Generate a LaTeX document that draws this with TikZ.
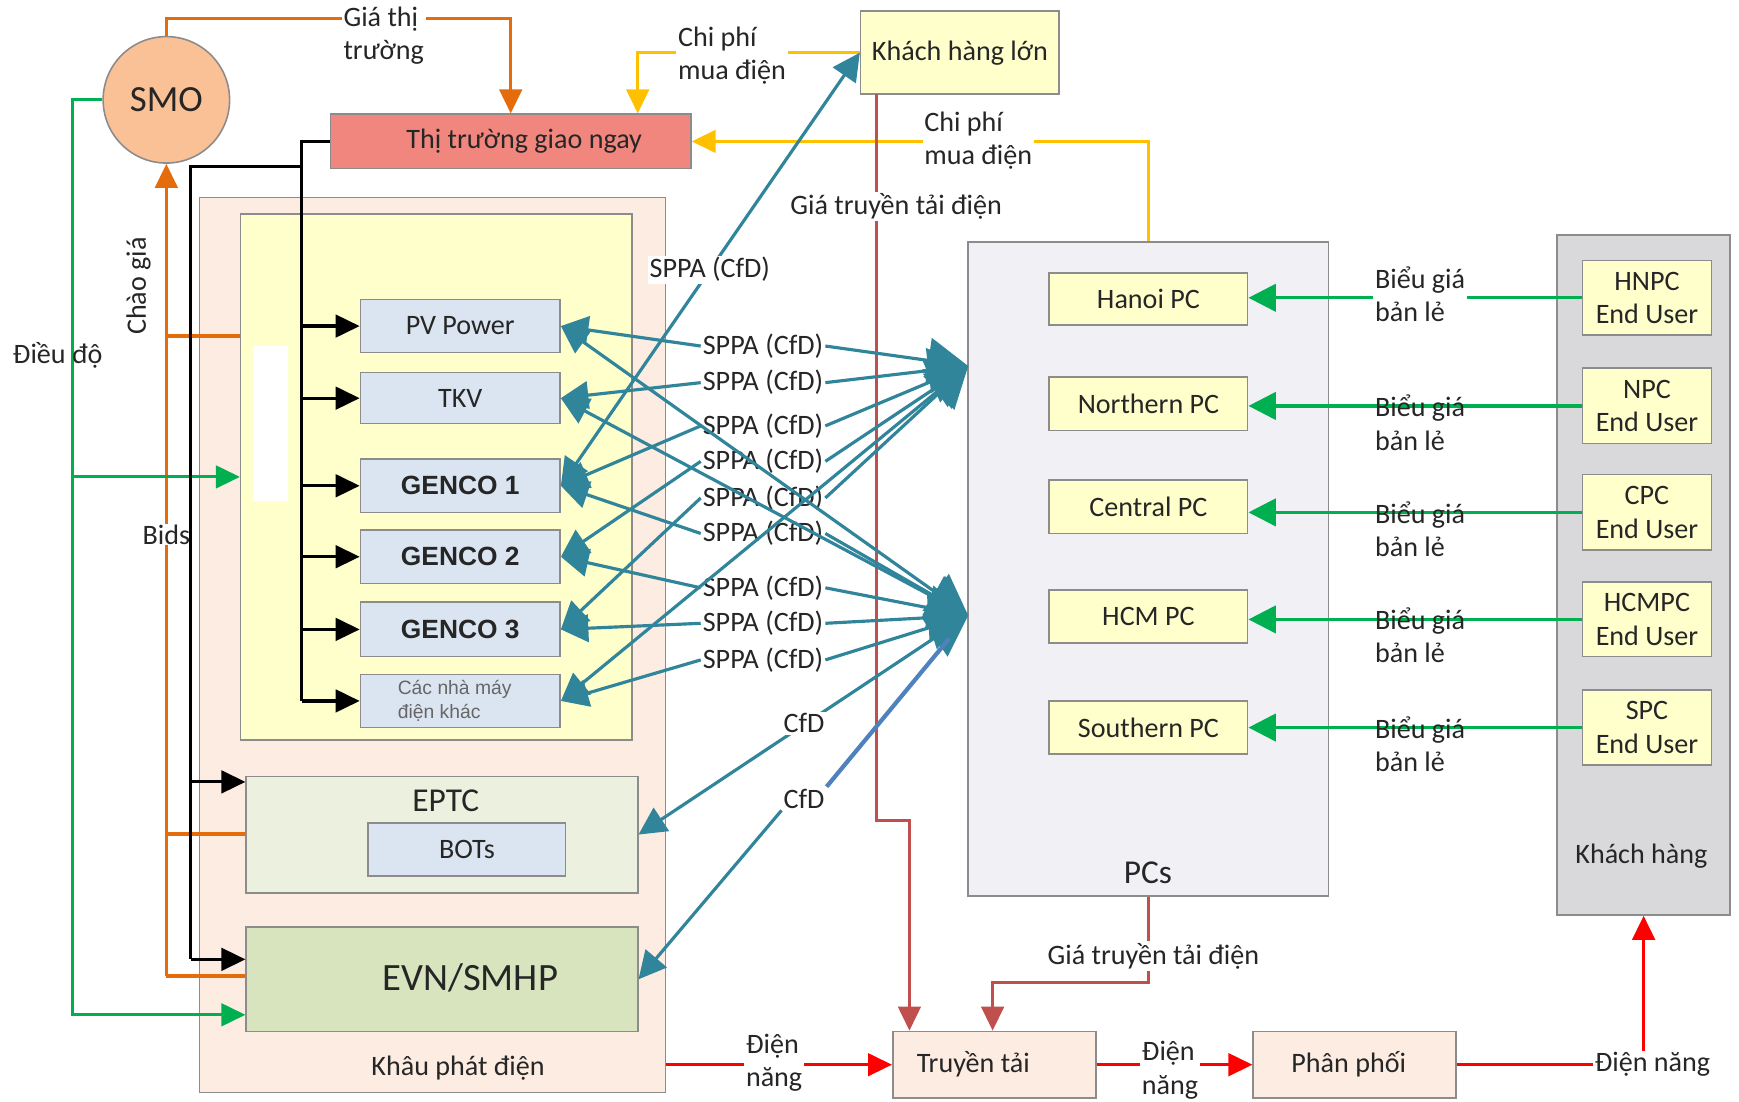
\documentclass[tikz,border=0pt]{standalone}
\usepackage{fontspec}
\setmainfont{Carlito}
\newfontfamily\arialfont{Liberation Sans}
\usetikzlibrary{arrows.meta,fit,positioning}

\definecolor{smoOrange}{RGB}{250,192,150}
\definecolor{bidOrange}{RGB}{228,108,10}
\definecolor{spotRed}{RGB}{240,134,125}
\definecolor{genPeach}{RGB}{252,236,226}
\definecolor{paleYellow}{RGB}{255,255,204}
\definecolor{genBlue}{RGB}{219,229,241}
\definecolor{eptcGreen}{RGB}{235,241,222}
\definecolor{evnGreen}{RGB}{215,228,189}
\definecolor{pcGray}{RGB}{240,240,245}
\definecolor{custGray}{RGB}{217,217,220}
\definecolor{sppaTeal}{RGB}{49,133,155}
\definecolor{dispGreen}{RGB}{0,176,80}
\definecolor{costYellow}{RGB}{255,192,0}
\definecolor{tariffRed}{RGB}{192,80,77}
\definecolor{powerRed}{RGB}{255,0,0}
\definecolor{cfdBlue}{RGB}{79,129,189}
\definecolor{boxLine}{RGB}{140,140,140}

\tikzset{
  zone/.style={draw=boxLine, line width=0.9pt, inner sep=0pt},
  genbox/.style={zone, fill=genBlue},
  pcbox/.style={zone, fill=paleYellow},
  flowbox/.style={zone, fill=genPeach},
  genco/.style={font=\arialfont\bfseries\fontsize{15}{18}\selectfont},
  eutext/.style={align=center},
  gapnode/.style={fill=white, inner sep=1pt, align=left},
  sppalbl/.style={inner sep=1pt},
  smalltip/.style={-{Triangle[length=0.48cm,width=0.45cm]}},
  gentip/.style={-{Triangle[length=0.55cm,width=0.55cm]}},
  hubtip/.style={-{Triangle[length=0.8cm,width=0.9cm]}},
  bothtip/.style={{Triangle[length=0.55cm,width=0.55cm]}-{Triangle[length=0.8cm,width=0.9cm]}},
  sppaline/.style={draw=sppaTeal, line width=1.8pt},
  bidline/.style={draw=bidOrange, line width=1.8pt},
  displine/.style={draw=dispGreen, line width=1.8pt},
  blkline/.style={draw=black, line width=1.8pt},
  costline/.style={draw=costYellow, line width=1.8pt},
  tarline/.style={draw=tariffRed, line width=1.8pt},
  powline/.style={draw=powerRed, line width=1.8pt}
}

\begin{document}
\begin{tikzpicture}[x=0.02218cm, y=-0.02218cm, font=\fontsize{16}{19}\selectfont, text=black!85]
  \useasboundingbox (0,0) rectangle (1568,993);

  % generation side
  \node[flowbox, fit={(180,178) (600,985)}] (khau) {};
  \node (khaulbl) at (413,963) {Khâu phát điện};
  \node[zone, fill=paleYellow, fit={(217,193) (570,667)}] (plants) {};
  \fill[white] (228,312) rectangle (260,452);
  \node[genbox, fit={(325,270) (505,318)}, label=center:PV Power] (pv) {};
  \node[genbox, fit={(325,336) (505,382)}, label=center:TKV] (tkv) {};
  \node[genbox, fit={(325,414) (505,462)}, label={[genco]center:GENCO 1}] (g1) {};
  \node[genbox, fit={(325,478) (505,526)}, label={[genco]center:GENCO 2}] (g2) {};
  \node[genbox, fit={(325,543) (505,592)}, label={[genco]center:GENCO 3}] (g3) {};
  \node[genbox, fit={(325,608) (505,656)}] (khac) {};
  \node[align=left, text=black!60, font=\arialfont\fontsize{11}{14}\selectfont] (khaclbl) at (410,632) {Các nhà máy\\điện khác};
  \node[zone, fill=eptcGreen, fit={(222,700) (575,805)}] (eptc) {};
  \node[font=\fontsize{19}{22}\selectfont] (eptclbl) at (402,722) {EPTC};
  \node[genbox, fit={(332,742) (510,790)}, label=center:BOTs] (bots) {};
  \node[zone, fill=evnGreen, fit={(222,836) (575,930)}] (evn) {};
  \node[font=\fontsize{22}{26}\selectfont] (evnlbl) at (424,882) {EVN/SMHP};

  % market
  \node[circle, draw=boxLine, line width=0.9pt, fill=smoOrange, minimum size=2.53cm, inner sep=0pt, font=\fontsize{21}{24}\selectfont] (smo) at (150,90) {SMO};
  \node[zone, fill=spotRed, fit={(298,103) (623,152)}, label={[xshift=0.27cm]center:Thị trường giao ngay}] (spot) {};
  \node[pcbox, fit={(776,10) (955,85)}, label=center:Khách hàng lớn] (khl) {};

  % PCs and customers
  \node[zone, fill=pcGray, fit={(873,218) (1198,808)}] (pcs) {};
  \node[font=\fontsize{19}{22}\selectfont] (pcslbl) at (1035,787) {PCs};
  \node[pcbox, fit={(946,246) (1125,293)}, label=center:Hanoi PC] (hanoi) {};
  \node[pcbox, fit={(946,340) (1125,388)}, label=center:Northern PC] (northern) {};
  \node[pcbox, fit={(946,433) (1125,481)}, label=center:Central PC] (central) {};
  \node[pcbox, fit={(946,532) (1125,580)}, label=center:HCM PC] (hcm) {};
  \node[pcbox, fit={(946,632) (1125,680)}, label=center:Southern PC] (southern) {};
  \node[zone, fill=custGray, fit={(1404,212) (1560,825)}] (kh) {};
  \node (khlbl) at (1480,772) {Khách hàng};
  \node[pcbox, fit={(1427,235) (1543,302)}, label={[eutext]center:{HNPC\\End User}}] (hnpc) {};
  \node[pcbox, fit={(1427,332) (1543,400)}, label={[eutext]center:{NPC\\End User}}] (npc) {};
  \node[pcbox, fit={(1427,428) (1543,496)}, label={[eutext]center:{CPC\\End User}}] (cpc) {};
  \node[pcbox, fit={(1427,525) (1543,592)}, label={[eutext]center:{HCMPC\\End User}}] (hcmpc) {};
  \node[pcbox, fit={(1427,622) (1543,690)}, label={[eutext]center:{SPC\\End User}}] (spc) {};

  % grid
  \node[flowbox, fit={(805,930) (988,990)}, label={[xshift=-0.42cm]center:Truyền tải}] (truyen) {};
  \node[flowbox, fit={(1130,930) (1313,990)}, label={[xshift=-0.12cm]center:Phân phối}] (phan) {};

  % bids and prices
  \coordinate (pricetop) at (150,17);
  \draw[bidline, smalltip] (smo.north) -- (pricetop) -| (spot.north);
  \node[gapnode] (pricelbl) at (346,32) {Giá thị\\trường};
  \coordinate (bidfoot) at (150,880);
  \coordinate (bidplants) at (150,303);
  \coordinate (bideptc) at (150,752);
  \draw[bidline, smalltip] (bidfoot) -- (smo.south);
  \draw[bidline] (bidplants) -- (bidplants -| plants.west);
  \draw[bidline] (bideptc) -- (bideptc -| eptc.west);
  \draw[bidline] (bidfoot) -- (bidfoot -| evn.west);
  \node[rotate=90] (chaolbl) at (125,258) {Chào giá};
  \node[fill=white, inner sep=0.5pt] (bidslbl) at (150,482) {Bids};

  % dispatch
  \coordinate (disptop) at (65,90);
  \coordinate (dispmid) at (65,430);
  \coordinate (dispfoot) at (65,915);
  \draw[displine, smalltip] (smo.west) -- (disptop) -- (dispfoot) -- (dispfoot -| evn.west);
  \draw[displine, smalltip] (dispmid) -- (dispmid -| plants.west);
  \node (dieudolbl) at (52,320) {Điều độ};

  % spot market to plants
  \coordinate (busend) at (272,632);
  \coordinate (busjoin) at (272,150);
  \coordinate (outertop) at (172,150);
  \coordinate (blkeptc) at (172,705);
  \coordinate (blkevn) at (172,865);
  \draw[blkline] (spot.west) -| (busend);
  \foreach \g in {pv,tkv,g1,g2,g3,khac}
    \draw[blkline, smalltip] (\g.west -| busend) -- (\g.west);
  \draw[blkline] (busjoin) -- (outertop) -- (blkevn);
  \draw[blkline, smalltip] (blkeptc) -- (blkeptc -| eptc.west);
  \draw[blkline, smalltip] (blkevn) -- (blkevn -| evn.west);

  % purchase costs
  \coordinate (costdrop) at (575,47.5);
  \draw[costline, smalltip] (khl.west) -- (costdrop) -- (costdrop |- spot.north);
  \node[gapnode] (costlbl1) at (660,50) {Chi phí\\mua điện};
  \draw[costline, smalltip] (pcs.north) -- (pcs.north |- spot.east) -- (spot.east);
  \node[gapnode] (costlbl2) at (882,127) {Chi phí\\mua điện};

  % transmission tariff
  \coordinate (tartop) at (790,85);
  \coordinate (tarbend) at (790,740);
  \coordinate (tardrop) at (820,740);
  \draw[tarline, smalltip] (tartop) -- (tarbend) -- (tardrop) -- (tardrop |- truyen.north);
  \node[fill=white, inner sep=1pt] (tarlbl1) at (808,186) {Giá truyền tải điện};
  \coordinate (tarturn) at (1035.5,886);
  \coordinate (tardrop2) at (895,886);
  \draw[tarline, smalltip] (pcs.south) -- (tarturn) -- (tardrop2) -- (tardrop2 |- truyen.north);
  \node[fill=white, inner sep=1pt] (tarlbl2) at (1040,862) {Giá truyền tải điện};

  % energy flow
  \coordinate (powturn) at (kh.south |- phan.east);
  \draw[powline, smalltip] (khau.east |- truyen.west) -- (truyen.west);
  \node[gapnode] (powlbl1) at (698,958) {Điện\\năng};
  \draw[powline, smalltip] (truyen.east) -- (phan.west);
  \node[gapnode] (powlbl2) at (1055,965) {Điện\\năng};
  \draw[powline, smalltip] (phan.east) -- (powturn) -- (kh.south);
  \node[fill=white, inner sep=1pt] (powlbl3) at (1490,960) {Điện năng};

  % retail tariffs
  \foreach \eu/\pc in {hnpc/hanoi,npc/northern,cpc/central,hcmpc/hcm,spc/southern}
    \draw[displine, gentip] (\eu.west) -- (\eu.west -| \pc.east);
  \node[gapnode, anchor=west] (tar1) at (1238,265) {Biểu giá\\bản lẻ};
  \node[align=left, anchor=west, inner sep=1pt] (tar2) at (1238,381) {Biểu giá\\bản lẻ};
  \node[align=left, anchor=west, inner sep=1pt] (tar3) at (1238,477) {Biểu giá\\bản lẻ};
  \node[align=left, anchor=west, inner sep=1pt] (tar4) at (1238,573) {Biểu giá\\bản lẻ};
  \node[align=left, anchor=west, inner sep=1pt] (tar5) at (1238,671) {Biểu giá\\bản lẻ};

  % contracts
  \coordinate (hubU) at (873,330);
  \coordinate (hubL) at (873,555);
  \foreach \y [count=\i] in {312,345,384,416,449,481,530,562,595}
    \node[sppalbl] (sp\i) at (688,\y) {SPPA (CfD)};
  \foreach \i/\g/\h in {1/pv/hubU,2/tkv/hubU,3/g1/hubU,4/g2/hubU,5/g3/hubU,6/g1/hubL,7/g2/hubL,8/g3/hubL,9/khac/hubL} {
    \draw[sppaline, gentip] (sp\i.west) -- (\g.east);
    \draw[sppaline, hubtip] (sp\i.east) -- (\h);
  }
  \draw[sppaline, bothtip] (pv.east) -- (hubL);
  \draw[sppaline, bothtip] (tkv.east) -- (hubL);
  \draw[sppaline, bothtip] (khac.east) -- (hubU);
  \draw[sppaline, {Triangle[length=0.55cm,width=0.55cm]}-{Triangle[length=0.55cm,width=0.55cm]}] (g1.east) -- (khl.west);
  \node[fill=white, inner sep=1pt] (sppakhl) at (640,243) {SPPA (CfD)};
  \draw[sppaline, bothtip] (eptc.east) -- (hubL);
  \node[fill=white, inner sep=1pt] (cfd1) at (725,652) {CfD};
  \node[inner sep=1pt] (cfd2) at (725,720) {CfD};
  \draw[sppaline, gentip] (cfd2.south west) -- (evn.east);
  \draw[draw=cfdBlue, line width=2.4pt, shorten >=0.6cm] (cfd2.north east) -- (hubL);
\end{tikzpicture}
\end{document}
